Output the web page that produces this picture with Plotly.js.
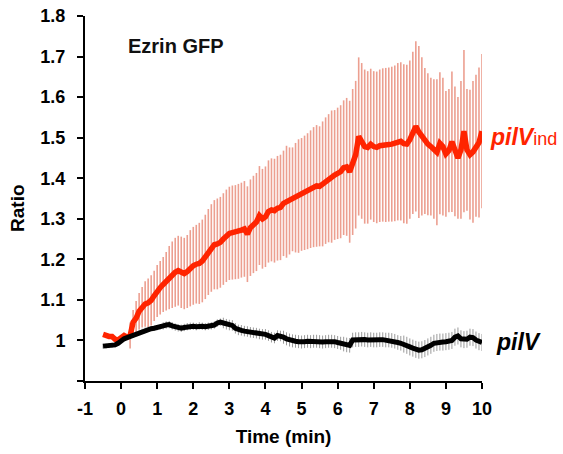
<!DOCTYPE html>
<html>
<head>
<meta charset="utf-8">
<script src="https://cdn.plot.ly/plotly-3.0.1.min.js"></script>
<style>html,body{margin:0;padding:0;background:#fff;}#chart{width:563px;height:454px;}</style>
</head>
<body>
<div id="chart"></div>
<script>
// sampling: every 5 s starting at -0.5 min
const startTime = -0.5;
const stepMin = 1 / 12;

const pilVindMean = [
  1.015,1.012,1.010,1.010,1.003,1.001,1.008,1.012,1.008,1.012,
  1.045,1.055,1.072,1.082,1.090,1.093,1.099,1.110,1.122,1.130,
  1.138,1.146,1.155,1.162,1.168,1.172,1.168,1.165,1.170,1.178,
  1.184,1.188,1.190,1.196,1.206,1.218,1.228,1.236,1.238,1.242,
  1.250,1.258,1.264,1.266,1.267,1.269,1.272,1.275,1.262,1.278,
  1.286,1.292,1.308,1.300,1.305,1.318,1.322,1.320,1.326,1.328,
  1.338,1.342,1.344,1.348,1.352,1.356,1.360,1.364,1.368,1.373,
  1.378,1.381,1.380,1.386,1.394,1.400,1.404,1.408,1.412,1.416,
  1.426,1.428,1.416,1.440,1.458,1.503,1.492,1.478,1.476,1.484,
  1.478,1.476,1.480,1.482,1.482,1.483,1.484,1.486,1.490,1.491,
  1.485,1.484,1.495,1.512,1.528,1.514,1.503,1.492,1.484,1.478,
  1.472,1.464,1.486,1.478,1.460,1.468,1.490,1.466,1.450,1.470,
  1.516,1.470,1.458,1.465,1.480,1.488,1.516
];
const pilVindErr = [
  0,0,0,0,0,0,0,0,0,0.032,
  0.030,0.042,0.045,0.050,0.056,0.060,0.062,0.062,0.064,0.066,
  0.068,0.072,0.078,0.082,0.085,0.086,0.088,0.088,0.090,0.094,
  0.096,0.097,0.100,0.102,0.104,0.106,0.108,0.110,0.112,0.112,
  0.113,0.114,0.115,0.116,0.116,0.117,0.117,0.118,0.118,0.119,
  0.120,0.121,0.122,0.123,0.124,0.126,0.127,0.128,0.129,0.130,
  0.130,0.138,0.132,0.128,0.135,0.140,0.139,0.141,0.143,0.145,
  0.148,0.150,0.148,0.154,0.156,0.158,0.163,0.160,0.162,0.164,
  0.166,0.170,0.175,0.180,0.182,0.195,0.192,0.190,0.188,0.186,
  0.186,0.187,0.188,0.189,0.190,0.190,0.191,0.192,0.194,0.195,
  0.196,0.196,0.195,0.200,0.210,0.212,0.195,0.180,0.175,0.170,
  0.172,0.180,0.175,0.170,0.155,0.152,0.173,0.160,0.150,0.170,
  0.200,0.150,0.160,0.175,0.175,0.185,0.190
];
const pilVMean = [
  0.986,0.986,0.987,0.988,0.989,0.993,1.000,1.004,1.007,1.010,
  1.013,1.016,1.020,1.023,1.026,1.028,1.029,1.030,1.031,1.033,
  1.036,1.038,1.039,1.036,1.033,1.031,1.030,1.032,1.034,1.035,
  1.035,1.034,1.036,1.035,1.034,1.035,1.036,1.038,1.043,1.045,
  1.043,1.040,1.038,1.037,1.030,1.026,1.025,1.023,1.022,1.020,
  1.019,1.018,1.016,1.015,1.015,1.012,1.008,1.006,1.012,1.011,
  1.008,1.004,1.001,0.999,0.998,0.997,0.996,0.997,0.998,0.997,
  0.998,0.998,0.997,0.996,0.997,0.998,0.998,0.997,0.995,0.993,
  0.991,0.989,0.988,1.001,1.002,1.002,1.003,1.002,1.001,1.002,
  1.001,1.001,1.002,1.002,1.001,1.001,1.000,0.998,0.995,0.993,
  0.991,0.988,0.984,0.981,0.978,0.976,0.977,0.980,0.984,0.988,
  0.993,0.995,0.996,0.996,0.997,0.998,1.000,1.008,1.011,1.004,
  1.002,1.003,1.008,1.007,1.001,0.997,0.995
];
const pilVErr = [
  0.006,0.006,0.006,0.006,0.006,0.006,0.006,0.006,0.006,0.006,
  0.006,0.006,0.006,0.006,0.006,0.006,0.006,0.006,0.006,0.006,
  0.009,0.009,0.009,0.009,0.009,0.009,0.009,0.009,0.009,0.009,
  0.009,0.009,0.009,0.009,0.009,0.009,0.009,0.009,0.009,0.009,
  0.013,0.013,0.013,0.013,0.013,0.013,0.013,0.013,0.013,0.013,
  0.013,0.013,0.013,0.013,0.013,0.013,0.013,0.013,0.013,0.013,
  0.016,0.016,0.016,0.016,0.016,0.016,0.016,0.016,0.016,0.016,
  0.016,0.016,0.016,0.016,0.016,0.016,0.016,0.016,0.016,0.016,
  0.018,0.018,0.018,0.018,0.018,0.018,0.018,0.018,0.018,0.018,
  0.018,0.018,0.018,0.018,0.018,0.018,0.018,0.018,0.018,0.018,
  0.021,0.021,0.021,0.021,0.021,0.021,0.021,0.021,0.021,0.021,
  0.021,0.021,0.021,0.021,0.021,0.021,0.021,0.021,0.021,0.021,
  0.021,0.021,0.021,0.021,0.021,0.021,0.021
];

const xTickVals = [-1,0,1,2,3,4,5,6,7,8,9,10];
const yTickVals = [0.9,1.0,1.1,1.2,1.3,1.4,1.5,1.6,1.7,1.8];
const yTickText = ['', '1', '1.1', '1.2', '1.3', '1.4', '1.5', '1.6', '1.7', '1.8'];

const time = pilVindMean.map((_, i) => startTime + i * stepMin);

const RED = '#ff2400';
const FONT = 'Liberation Sans, Arial, sans-serif';

const traces = [
  {
    x: time, y: pilVindMean, type: 'scatter', mode: 'markers',
    marker: {size: 1, color: 'rgba(0,0,0,0)'},
    error_y: {type: 'data', array: pilVindErr, visible: true, color: '#ec9f90', thickness: 1.6, width: 0},
    hoverinfo: 'skip'
  },
  {
    x: time, y: pilVMean, type: 'scatter', mode: 'markers',
    marker: {size: 1, color: 'rgba(0,0,0,0)'},
    error_y: {type: 'data', array: pilVErr, visible: true, color: '#9a9a9a', thickness: 1, width: 0},
    hoverinfo: 'skip'
  },
  {
    x: time, y: pilVindMean, type: 'scatter', mode: 'lines',
    line: {color: RED, width: 5.5}
  },
  {
    x: time, y: pilVMean, type: 'scatter', mode: 'lines',
    line: {color: '#000000', width: 5}
  }
];

const layout = {
  width: 563, height: 454,
  margin: {l: 85, r: 81, t: 16, b: 73},
  paper_bgcolor: '#ffffff', plot_bgcolor: '#ffffff',
  showlegend: false,
  font: {family: FONT, color: '#000'},
  xaxis: {
    range: [-1, 10], tickvals: xTickVals, ticktext: xTickVals.map(String),
    showline: true, linecolor: '#000', linewidth: 2,
    ticks: 'outside', ticklen: 6, tickwidth: 2, tickcolor: '#000',
    showgrid: false, zeroline: false,
    tickfont: {family: FONT, size: 18, weight: 'bold', color: '#000'},
    ticklabelstandoff: 4,
    title: {text: 'Time (min)', font: {family: FONT, size: 19, weight: 'bold', color: '#000'}, standoff: 12}
  },
  yaxis: {
    range: [0.9, 1.8], tickvals: yTickVals, ticktext: yTickText,
    showline: true, linecolor: '#000', linewidth: 2,
    ticks: 'outside', ticklen: 6, tickwidth: 2, tickcolor: '#000',
    showgrid: false, zeroline: false,
    tickfont: {family: FONT, size: 18, weight: 'bold', color: '#000'},
    ticklabelstandoff: 8
  },
  annotations: [
    {xref: 'paper', yref: 'paper', x: 0, y: 0.474, xshift: -67, xanchor: 'center', yanchor: 'middle',
     text: 'Ratio', textangle: -90, showarrow: false,
     font: {family: FONT, size: 19, weight: 'bold', color: '#000'}},
    {xref: 'paper', yref: 'paper', x: 0.229, y: 0.919, xanchor: 'center', yanchor: 'middle',
     text: 'Ezrin GFP', showarrow: false,
     font: {family: FONT, size: 20, weight: 'bold', color: '#111'}},
    {xref: 'paper', yref: 'paper', x: 1.016, y: 0.668, xanchor: 'left', yanchor: 'middle',
     text: '<b><i>pilV</i></b><span style="font-size:18px">ind</span>', showarrow: false,
     font: {family: FONT, size: 23, color: RED}},
    {xref: 'paper', yref: 'paper', x: 1.030, y: 0.108, xanchor: 'left', yanchor: 'middle',
     text: '<b><i>pilV</i></b>', showarrow: false,
     font: {family: FONT, size: 23, color: '#000'}}
  ]
};

Plotly.newPlot('chart', traces, layout, {staticPlot: true, displayModeBar: false});
</script>
</body>
</html>
